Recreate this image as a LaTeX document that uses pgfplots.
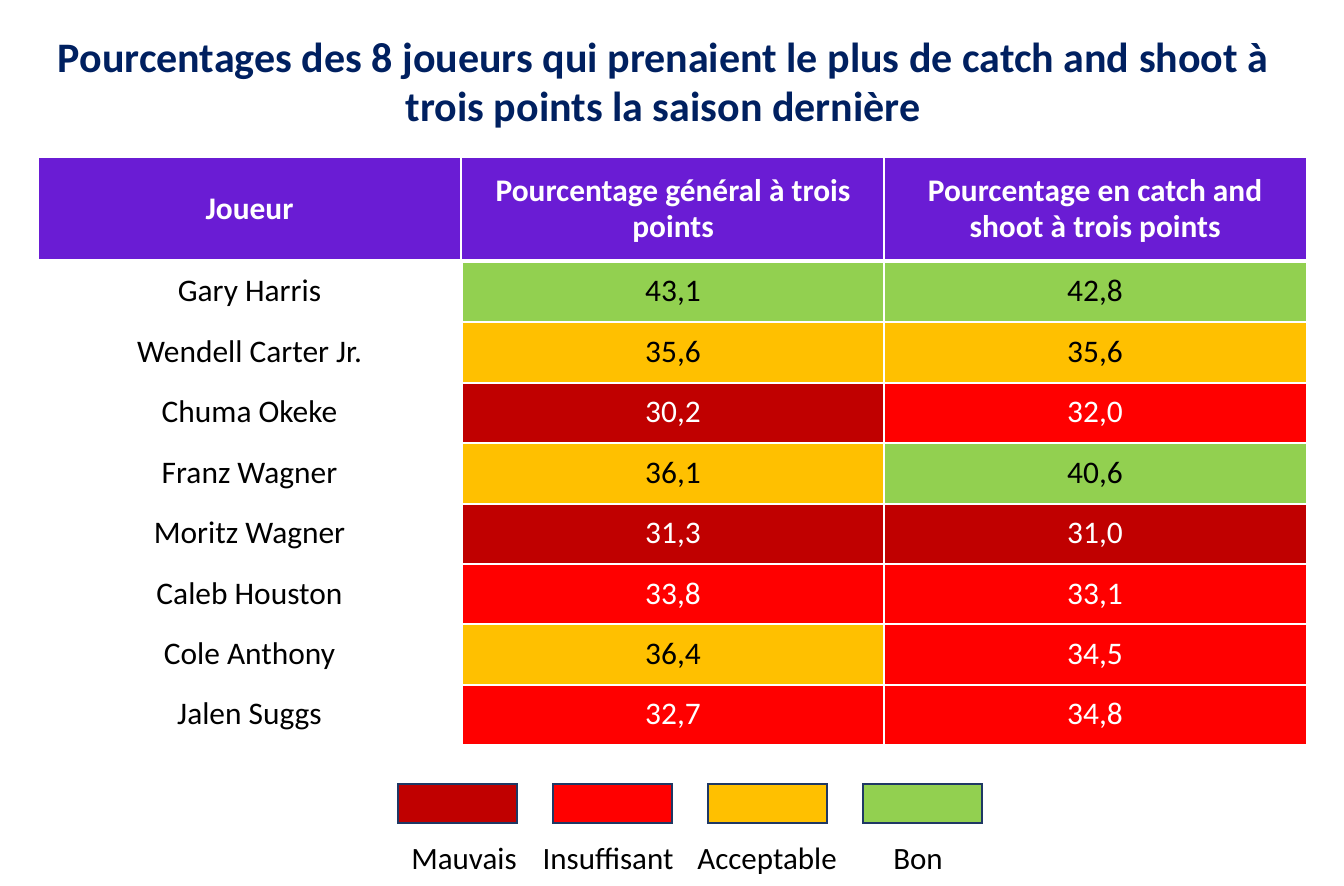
\documentclass[border=0pt]{standalone}
\usepackage{pgfplots}
\pgfplotsset{compat=1.18}
\usepackage{fontspec}
\setmainfont{Carlito}
\definecolor{cMau}{HTML}{C00000}
\definecolor{cIns}{HTML}{FF0000}
\definecolor{cAcc}{HTML}{FFC000}
\definecolor{cBon}{HTML}{92D050}
\definecolor{hdr}{HTML}{6A1CD4}
\definecolor{ttl}{HTML}{002060}
\definecolor{lbd}{HTML}{1F3864}
% x0 x1 y0 y1 fill xc ybase text textcolor
\newcommand\cellv[9]{%
  \addplot[fill=#5, draw=white, line width=1pt] coordinates {(#1,#3) (#2,#3) (#2,#4) (#1,#4)} -- cycle;
  \node[anchor=base, text=#9, font=\fontsize{15.7}{18}\selectfont] at (axis cs:#6,#7) {#8};}
\newcommand\rname[2]{\node[anchor=base, font=\fontsize{15.7}{18}\selectfont] at (axis cs:249.5,#1) {#2};}
\begin{document}
\begin{tikzpicture}
\begin{axis}[
  scale only axis, width=672pt, height=443pt,
  xmin=0, xmax=1344, ymin=0, ymax=886, y dir=reverse,
  hide axis, clip=false]
\addplot[draw=none] coordinates {(0,0) (1344,886)};
% title
\node[anchor=base, text=ttl, font=\fontsize{21}{25}\selectfont\bfseries] at (axis cs:663,73) {Pourcentages des 8 joueurs qui prenaient le plus de catch and shoot à};
\node[anchor=base, text=ttl, font=\fontsize{21}{25}\selectfont\bfseries] at (axis cs:663,122) {trois points la saison dernière};
% header
\addplot[fill=hdr, draw=white, line width=1pt] coordinates {(38,157) (461,157) (461,260) (38,260)} -- cycle;
\addplot[fill=hdr, draw=white, line width=1pt] coordinates {(461,157) (884,157) (884,260) (461,260)} -- cycle;
\addplot[fill=hdr, draw=white, line width=1pt] coordinates {(884,157) (1307,157) (1307,260) (884,260)} -- cycle;
\node[anchor=base, text=white, font=\fontsize{15.7}{18}\selectfont\bfseries] at (axis cs:249.5,220) {Joueur};
\node[anchor=base, text=white, font=\fontsize{15.7}{18}\selectfont\bfseries] at (axis cs:673,202) {Pourcentage général à trois};
\node[anchor=base, text=white, font=\fontsize{15.7}{18}\selectfont\bfseries] at (axis cs:673,238) {points};
\node[anchor=base, text=white, font=\fontsize{15.7}{18}\selectfont\bfseries] at (axis cs:1095,202) {Pourcentage en catch and};
\node[anchor=base, text=white, font=\fontsize{15.7}{18}\selectfont\bfseries] at (axis cs:1095,238) {shoot à trois points};
% rows
\rname{302}{Gary Harris}
\cellv{462}{884}{262}{322.4}{cBon}{673}{302}{43,1}{black}
\cellv{884}{1307}{262}{322.4}{cBon}{1095}{302}{42,8}{black}
\rname{362.6}{Wendell Carter Jr.}
\cellv{462}{884}{322.4}{382.8}{cAcc}{673}{362.6}{35,6}{black}
\cellv{884}{1307}{322.4}{382.8}{cAcc}{1095}{362.6}{35,6}{black}
\rname{423}{Chuma Okeke}
\cellv{462}{884}{382.8}{443.2}{cMau}{673}{423}{30,2}{white}
\cellv{884}{1307}{382.8}{443.2}{cIns}{1095}{423}{32,0}{white}
\rname{483.4}{Franz Wagner}
\cellv{462}{884}{443.2}{503.6}{cAcc}{673}{483.4}{36,1}{black}
\cellv{884}{1307}{443.2}{503.6}{cBon}{1095}{483.4}{40,6}{black}
\rname{543.8}{Moritz Wagner}
\cellv{462}{884}{503.6}{564}{cMau}{673}{543.8}{31,3}{white}
\cellv{884}{1307}{503.6}{564}{cMau}{1095}{543.8}{31,0}{white}
\rname{604.2}{Caleb Houston}
\cellv{462}{884}{564}{624.4}{cIns}{673}{604.2}{33,8}{white}
\cellv{884}{1307}{564}{624.4}{cIns}{1095}{604.2}{33,1}{white}
\rname{664.6}{Cole Anthony}
\cellv{462}{884}{624.4}{684.8}{cAcc}{673}{664.6}{36,4}{black}
\cellv{884}{1307}{624.4}{684.8}{cIns}{1095}{664.6}{34,5}{white}
\rname{725}{Jalen Suggs}
\cellv{462}{884}{684.8}{745.2}{cIns}{673}{725}{32,7}{white}
\cellv{884}{1307}{684.8}{745.2}{cIns}{1095}{725}{34,8}{white}
% legend
\addplot[fill=cMau, draw=lbd, line width=1pt] coordinates {(397.5,784.5) (517,784.5) (517,823) (397.5,823)} -- cycle;
\addplot[fill=cIns, draw=lbd, line width=1pt] coordinates {(552.5,784.5) (672,784.5) (672,823) (552.5,823)} -- cycle;
\addplot[fill=cAcc, draw=lbd, line width=1pt] coordinates {(707.5,784.5) (827,784.5) (827,823) (707.5,823)} -- cycle;
\addplot[fill=cBon, draw=lbd, line width=1pt] coordinates {(862.5,784.5) (982,784.5) (982,823) (862.5,823)} -- cycle;
\node[anchor=base, font=\fontsize{15.5}{18}\selectfont] at (axis cs:464,870) {Mauvais};
\node[anchor=base, font=\fontsize{15.5}{18}\selectfont] at (axis cs:608,870) {Insuffisant};
\node[anchor=base, font=\fontsize{15.5}{18}\selectfont] at (axis cs:767,870) {Acceptable};
\node[anchor=base, font=\fontsize{15.5}{18}\selectfont] at (axis cs:918,870) {Bon};
\end{axis}
\end{tikzpicture}
\end{document}
